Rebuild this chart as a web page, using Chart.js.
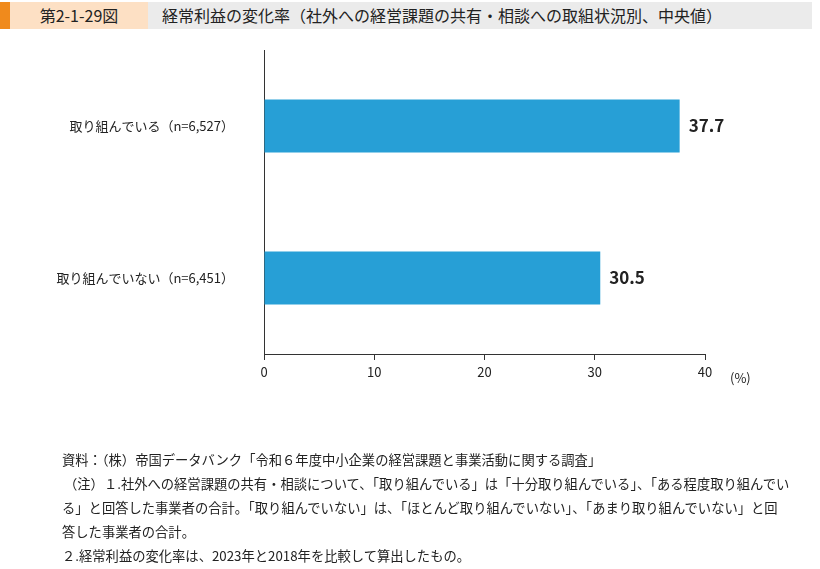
<!DOCTYPE html>
<html><head><meta charset="utf-8">
<script src="https://cdn.jsdelivr.net/npm/chart.js@4"></script>
<style>
body{margin:0;width:820px;height:569px;position:relative;font-family:"Noto Sans CJK JP",sans-serif;background:#fff;overflow:hidden}
#c{position:absolute;left:0;top:0}
.h{position:absolute;top:2px;height:27px;line-height:27px;font-size:16px;color:#222}
.n{position:absolute;left:62px;font-size:13.3px;color:#222;white-space:nowrap}
</style></head><body>
<div class="h" style="left:0;width:10px;background:#f08a1c"></div>
<div class="h" style="left:10px;width:138px;background:#fde0c4;text-align:center">第2-1-29図</div>
<div class="h" style="left:148px;width:664px;background:#ebebeb;padding-left:14px;box-sizing:border-box">経常利益の変化率（社外への経営課題の共有・相談への取組状況別、中央値）</div>
<canvas id="c" width="820" height="569"></canvas>
<div style="position:absolute;left:730px;top:368px;font-size:13px;color:#222">(%)</div>
<div class="n" style="top:450px">資料：（株）帝国データバンク「令和６年度中小企業の経営課題と事業活動に関する調査」</div>
<div class="n" style="top:474px;left:64px">（注）１.社外への経営課題の共有・相談について、「取り組んでいる」は「十分取り組んでいる」、「ある程度取り組んでい</div>
<div class="n" style="top:498px">る」と回答した事業者の合計。「取り組んでいない」は、「ほとんど取り組んでいない」、「あまり取り組んでいない」と回</div>
<div class="n" style="top:522px">答した事業者の合計。</div>
<div class="n" style="top:546px">２.経常利益の変化率は、2023年と2018年を比較して算出したもの。</div>
<script>
const categories=["取り組んでいる（n=6,527）","取り組んでいない（n=6,451）"];
const values=[37.7,30.5];
const xTicks=[0,10,20,30,40];
const lbl={id:'lbl',afterDatasetsDraw(ch){const c=ch.ctx;const m=ch.getDatasetMeta(0);c.save();c.font='bold 17px "Noto Sans CJK JP",sans-serif';c.fillStyle='#222';c.textBaseline='middle';m.data.forEach((b,i)=>c.fillText(values[i].toFixed(1),b.x+9,b.y));c.restore();}};
new Chart(document.getElementById('c'),{type:'bar',data:{labels:categories,datasets:[{data:values,backgroundColor:'#279fd6',barPercentage:0.35,categoryPercentage:1}]},
options:{indexAxis:'y',responsive:false,animation:false,layout:{padding:{top:50,right:115,bottom:185,left:0}},
plugins:{legend:{display:false},tooltip:{enabled:false}},
scales:{x:{min:0,max:40,afterBuildTicks(a){a.ticks=xTicks.map(v=>({value:v}));},afterFit(a){a.height=30;},
grid:{drawOnChartArea:false,tickLength:6,color:'#333'},border:{color:'#333'},ticks:{color:'#222',font:{size:13,family:'"Noto Sans CJK JP"'},padding:4}},
y:{afterFit(a){a.width=264;},grid:{display:false},border:{color:'#333'},ticks:{color:'#222',padding:22,font:{size:13,family:'"Noto Sans CJK JP"'}}}}},plugins:[lbl]});
</script></body></html>
